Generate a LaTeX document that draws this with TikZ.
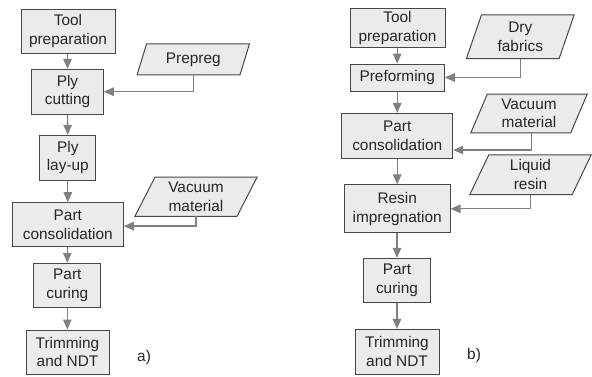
\documentclass[tikz,border=0pt]{standalone}
\usepackage{fontspec}
\setmainfont{Liberation Sans}
\usetikzlibrary{arrows.meta,calc}

% Parallelogram input: a named text node plus a slanted outline round it
\newcommand{\inputbox}[6]{% name, center, width, height, slant offset, text
  \node[inner sep=0pt, minimum width=#3, minimum height=#4] (#1) at #2 {};
  \filldraw[boxline] ($(#1.south west)$) -- ($(#1.south east)-(#5,0)$)
    -- (#1.north east) -- ($(#1.north west)+(#5,0)$) -- cycle;
  \node[txt] at (#1.center) {#6};
}

\begin{document}
\begin{tikzpicture}[x=1pt, y=-1pt,
  txt/.style={align=center, font=\fontsize{15.4}{18.5}\selectfont, text=black!85, inner sep=0pt},
  boxline/.style={draw=black!72, line width=1pt, fill=black!8},
  stepbox/.style={boxline, txt, inner sep=0pt},
  flow/.style={draw=black!50, line width=1.3pt,
    -{Triangle[length=10pt, width=8.5pt, fill=black!50]}}
]
\useasboundingbox (0,0) rectangle (592,376);

% ---- a) prepreg route ----
\node[stepbox, minimum width=94, minimum height=44] (a1) at (68,31) {Tool\\preparation};
\node[stepbox, minimum width=71.6, minimum height=44.7] (a2) at (67.5,91.7) {Ply\\cutting};
\node[stepbox, minimum width=55.7, minimum height=44.7] (a3) at (67.8,157.7) {Ply\\lay-up};
\node[stepbox, minimum width=111, minimum height=44] (a4) at (67.8,224.7) {Part\\consolidation};
\node[stepbox, minimum width=67.3, minimum height=44.4] (a5) at (67.3,285.5) {Part\\curing};
\node[stepbox, minimum width=83, minimum height=44] (a6) at (67.5,352) {Trimming\\and NDT};
\inputbox{aprep}{(193.3,59.3)}{112}{30.7}{9.5}{Prepreg}
\inputbox{avac}{(196,196.7)}{121.7}{38.7}{20}{Vacuum\\material}
\node[txt, anchor=west] (alab) at (137,358) {a)};

\draw[flow] (a1.south -| a2.north) -- (a2.north);
\draw[flow] (a2.south) -- (a3.north);
\draw[flow] (a3.south) -- (a4.north -| a3.south);
\draw[flow] (a4.south -| a5.north) -- (a5.north);
\draw[flow] (a5.south) -- (a6.north -| a5.south);
\draw[flow] (aprep.south) |- (a2.east);
\draw[flow] (avac.south) |- ([yshift=-1.4pt]a4.east);

% ---- b) dry fabric route ----
\node[stepbox, minimum width=95, minimum height=39] (b1) at (397.5,27.8) {Tool\\preparation};
\node[stepbox, minimum width=94.3, minimum height=27] (b2) at (397.2,77.5) {Preforming};
\node[stepbox, minimum width=111, minimum height=45] (b3) at (397.2,135.8) {Part\\consolidation};
\node[stepbox, minimum width=105.7, minimum height=47.7] (b4) at (397.2,208.8) {Resin\\impregnation};
\node[stepbox, minimum width=67.4, minimum height=44] (b5) at (397,280.3) {Part\\curing};
\node[stepbox, minimum width=84, minimum height=44.7] (b6) at (397,351.7) {Trimming\\and NDT};
\inputbox{bdry}{(520.3,36.7)}{107.3}{43.3}{15}{Dry\\fabrics}
\inputbox{bvac}{(529,113.5)}{116}{38.4}{16.5}{Vacuum\\material}
\inputbox{bres}{(530.5,174.7)}{121}{39.3}{19}{Liquid\\resin}
\node[txt, anchor=west] (blab) at (467,356) {b)};

\draw[flow] (b1.south -| b2.north) -- (b2.north);
\draw[flow] (b2.south) -- (b3.north -| b2.south);
\draw[flow] (b3.south) -- (b4.north -| b3.south);
\draw[flow] (b4.south -| b5.north) -- (b5.north);
\draw[flow] (b5.south) -- (b6.north -| b5.south);
\draw[flow] (bdry.south) |- (b2.east);
\draw[flow] ([xshift=2.5pt]bvac.south) |- ([yshift=-14.2pt]b3.east);
\draw[flow] (bres.south) |- (b4.east);
\end{tikzpicture}
\end{document}
